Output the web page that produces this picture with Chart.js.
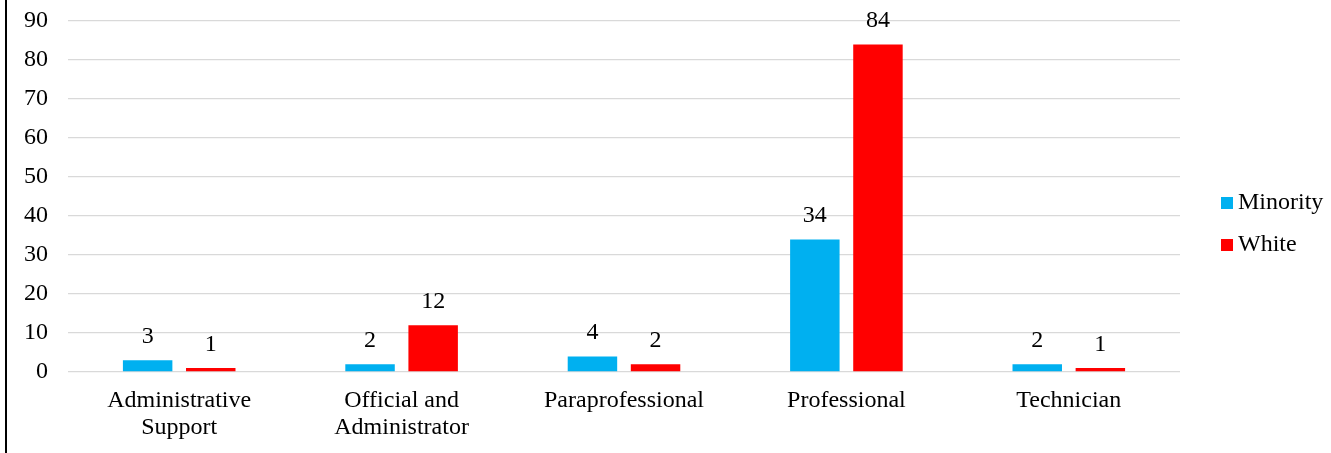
<!DOCTYPE html>
<html>
<head>
<meta charset="utf-8">
<script src="https://cdn.jsdelivr.net/npm/chart.js@4/dist/chart.umd.min.js"></script>
<style>
  html, body { margin: 0; padding: 0; background: #fff; }
  #wrap { position: relative; width: 1331px; height: 453px; }
</style>
</head>
<body>
<div id="wrap"><canvas id="chart" width="1331" height="453"></canvas></div>
<script>
// Staff counts by job category
const categories = [
  ['Administrative', 'Support'],
  ['Official and', 'Administrator'],
  'Paraprofessional',
  'Professional',
  'Technician'
];
const seriesNames = ['Minority', 'White'];
const minority = [3, 2, 4, 34, 2];
const white = [1, 12, 2, 84, 1];
const seriesColors = ['#00b0f0', '#ff0000'];
const yTicks = [0, 10, 20, 30, 40, 50, 60, 70, 80, 90];

const FONT = 'Liberation Serif, "Times New Roman", serif';
const FONT_SIZE = 24;

// Left frame line
const framePlugin = {
  id: 'frame',
  afterDraw(chart) {
    const ctx = chart.ctx;
    ctx.save();
    ctx.fillStyle = '#000';
    ctx.fillRect(5, 0, 2, chart.height);
    ctx.restore();
  }
};

// Value labels above each bar
const valueLabels = {
  id: 'valueLabels',
  afterDatasetsDraw(chart) {
    const ctx = chart.ctx;
    ctx.save();
    ctx.font = FONT_SIZE + 'px ' + FONT;
    ctx.fillStyle = '#000';
    ctx.textAlign = 'center';
    ctx.textBaseline = 'alphabetic';
    chart.data.datasets.forEach((ds, di) => {
      chart.getDatasetMeta(di).data.forEach((bar, i) => {
        ctx.fillText(String(ds.data[i]), bar.x, bar.y - 17);
      });
    });
    ctx.restore();
  }
};

// Legend at the right, square swatches
const sideLegend = {
  id: 'sideLegend',
  afterDraw(chart) {
    const ctx = chart.ctx;
    const x = chart.chartArea.right + 41;
    const cy = chart.height / 2 - 2.5;
    const gap = 42;
    ctx.save();
    ctx.font = FONT_SIZE + 'px ' + FONT;
    ctx.textAlign = 'left';
    ctx.textBaseline = 'middle';
    chart.data.datasets.forEach((ds, i) => {
      const y = cy + (i - (chart.data.datasets.length - 1) / 2) * gap;
      ctx.fillStyle = ds.backgroundColor;
      ctx.fillRect(x, y - 6, 12, 12);
      ctx.fillStyle = '#000';
      ctx.fillText(ds.label, x + 17, y);
    });
    ctx.restore();
  }
};

new Chart(document.getElementById('chart'), {
  type: 'bar',
  data: {
    labels: categories,
    datasets: [
      { label: seriesNames[0], data: minority, backgroundColor: seriesColors[0] },
      { label: seriesNames[1], data: white, backgroundColor: seriesColors[1] }
    ]
  },
  options: {
    responsive: false,
    animation: false,
    devicePixelRatio: 1,
    categoryPercentage: 0.5675,
    barPercentage: 0.784,
    layout: { padding: { left: 0, right: 151, top: 21, bottom: 0 } },
    plugins: {
      legend: { display: false },
      tooltip: { enabled: false }
    },
    scales: {
      x: {
        grid: { display: false, drawTicks: false },
        border: { display: false },
        ticks: {
          color: '#000',
          padding: 15,
          maxRotation: 0,
          autoSkip: false,
          font: { family: FONT, size: FONT_SIZE, lineHeight: 1.125 }
        },
        afterFit(scale) { scale.height = 81; }
      },
      y: {
        min: 0,
        max: 90,
        grid: { color: '#d9d9d9', lineWidth: 1.3, drawTicks: false },
        border: { display: false },
        afterBuildTicks(scale) { scale.ticks = yTicks.map(v => ({ value: v })); },
        ticks: {
          color: '#000',
          padding: 20,
          font: { family: FONT, size: FONT_SIZE }
        },
        afterFit(scale) {
          scale.width = 68;
          scale.paddingTop = 0;
          scale.paddingBottom = 0;
        }
      }
    }
  },
  plugins: [framePlugin, valueLabels, sideLegend]
});
</script>
</body>
</html>
